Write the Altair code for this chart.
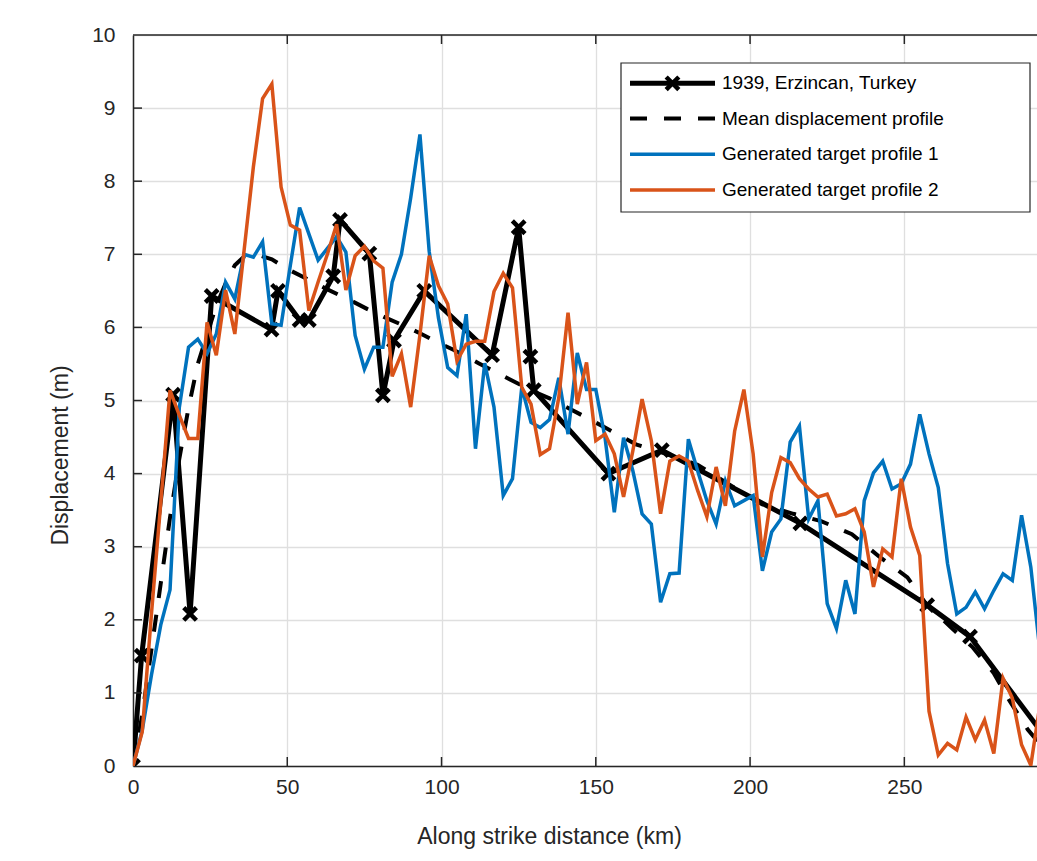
import altair as alt
import pandas as pd

# ---------------- data ----------------
dist = [0, 3, 6, 9, 12, 15, 18, 21, 24, 27, 30, 33, 36, 39, 42, 45, 48, 51, 54, 57,
        60, 63, 66, 69, 72, 75, 78, 81, 84, 87, 90, 93, 96, 99, 102, 105, 108, 111, 114, 117,
        120, 123, 126, 129, 132, 135, 138, 141, 144, 147, 150, 153, 156, 159, 162, 165, 168, 171, 174, 177,
        180, 183, 186, 189, 192, 195, 198, 201, 204, 207, 210, 213, 216, 219, 222, 225, 228, 231, 234, 237,
        240, 243, 246, 249, 252, 255, 258, 261, 264, 267, 270, 273, 276, 279, 282, 285, 288, 291, 294]

profile1 = [0.00, 0.49, 1.25, 1.93, 2.41, 4.90, 5.73, 5.84, 5.64, 5.91,
            6.62, 6.39, 7.00, 6.96, 7.17, 6.05, 6.03, 6.85, 7.64, 7.28,
            6.92, 7.08, 7.24, 7.03, 5.89, 5.43, 5.73, 5.73, 6.62, 7.00,
            7.77, 8.64, 7.04, 6.13, 5.45, 5.34, 6.18, 4.34, 5.51, 4.91,
            3.70, 3.93, 5.18, 4.70, 4.63, 4.74, 5.31, 4.54, 5.65, 5.15,
            5.15, 4.49, 3.47, 4.49, 4.04, 3.45, 3.31, 2.24, 2.63, 2.64,
            4.47, 4.04, 3.63, 3.31, 3.90, 3.56, 3.63, 3.70, 2.67, 3.20,
            3.38, 4.43, 4.65, 3.38, 3.63, 2.22, 1.88, 2.54, 2.08, 3.63,
            4.01, 4.17, 3.79, 3.86, 4.13, 4.81, 4.27, 3.81, 2.77, 2.08,
            2.17, 2.38, 2.15, 2.40, 2.63, 2.54, 3.43, 2.72, 1.55]

profile2 = [0.00, 0.47, 2.09, 3.60, 5.14, 4.80, 4.48, 4.48, 6.07, 5.62,
            6.51, 5.91, 7.05, 8.19, 9.13, 9.33, 7.92, 7.40, 7.33, 6.23,
            6.62, 7.00, 7.41, 6.51, 6.98, 7.11, 6.91, 6.81, 5.33, 5.64,
            4.91, 5.90, 6.98, 6.57, 6.32, 5.54, 5.77, 5.81, 5.81, 6.49,
            6.74, 6.54, 5.18, 4.95, 4.26, 4.34, 5.04, 6.20, 4.95, 5.52,
            4.45, 4.54, 4.27, 3.68, 4.31, 5.02, 4.45, 3.45, 4.17, 4.24,
            4.17, 3.77, 3.41, 4.09, 3.56, 4.58, 5.15, 4.27, 2.86, 3.74,
            4.22, 4.15, 3.93, 3.79, 3.68, 3.72, 3.42, 3.45, 3.52, 3.20,
            2.45, 2.97, 2.86, 3.93, 3.27, 2.88, 0.75, 0.15, 0.31, 0.22,
            0.67, 0.36, 0.63, 0.17, 1.20, 0.93, 0.29, 0.01, 0.85]

mean_x = [0, 3, 6, 9, 12, 15, 18, 21, 24, 27, 30, 33, 36, 40, 45, 50, 57, 63, 70, 76,
          82, 88, 93, 100, 104, 112, 118, 123, 130, 135, 145, 153, 163, 172, 183, 194, 204, 214, 223, 233,
          242, 251, 257, 265, 272, 279, 284, 290, 300]
mean_y = [0.00, 0.70, 1.60, 2.50, 3.40, 4.20, 4.90, 5.50, 5.90, 6.30, 6.60, 6.85, 6.97, 7.00, 6.93, 6.80, 6.65, 6.52, 6.38, 6.25,
          6.13, 6.02, 5.92, 5.77, 5.69, 5.51, 5.38, 5.27, 5.12, 5.03, 4.81, 4.63, 4.40, 4.28, 4.12, 3.83, 3.58, 3.45, 3.35, 3.17,
          2.86, 2.58, 2.22, 1.90, 1.63, 1.27, 0.90, 0.50, 0.00]

obs_x = [0, 2.8, 13.0, 18.5, 25.5, 44.9, 47.0, 54.0, 57.0, 64.9, 67.1, 76.6, 81.0, 84.6, 94.4,
         116.4, 125.0, 128.8, 129.9, 154.1, 171.4, 216.3, 257.4, 271.3, 300]
obs_y = [0.00, 1.51, 5.08, 2.08, 6.43, 5.97, 6.50, 6.10, 6.10, 6.70, 7.47, 7.01, 5.07, 5.82, 6.50,
         5.62, 7.37, 5.60, 5.14, 4.00, 4.32, 3.32, 2.20, 1.77, 0.15]

x_ticks = [0, 50, 100, 150, 200, 250]
y_ticks = [0, 1, 2, 3, 4, 5, 6, 7, 8, 9, 10]

legend_labels = ["1939, Erzincan, Turkey", "Mean displacement profile",
                 "Generated target profile 1", "Generated target profile 2"]

# ---------------- style ----------------
FONT = "Liberation Sans"
AX = "#262626"
BLUE = "#0072BD"
ORANGE = "#D95319"
W, H = 904, 731
XMAX = 293.0

xs = alt.Scale(domain=[0, XMAX], nice=False, zero=False)
ys = alt.Scale(domain=[0, 10], nice=False)

x_axis = alt.Axis(values=x_ticks, title="Along strike distance (km)", grid=True, format="d",
                  ticks=False, tickSize=0, labelPadding=10, labelFontSize=21,
                  labelFont=FONT, labelColor=AX, titleFont=FONT, titleFontSize=23,
                  titleFontWeight="normal", titleColor=AX, titleY=77, titleX=416,
                  titleAlign="center", titleAnchor="start",
                  titleBaseline="alphabetic", domainColor=AX, domainWidth=1.5,
                  gridColor="#dfdfdf", gridWidth=1.3, labelFlush=False)
y_axis = alt.Axis(values=y_ticks, title="Displacement (m)", grid=True, format="d",
                  ticks=False, tickSize=0, labelPadding=18, labelFontSize=21,
                  labelFont=FONT, labelColor=AX, titleFont=FONT, titleFontSize=23,
                  titleFontWeight="normal", titleColor=AX, titleAngle=270,
                  titleX=-73, titleY=420, titleAlign="center", titleBaseline="middle",
                  domainColor=AX, domainWidth=1.5, gridColor="#dfdfdf", gridWidth=1.3,
                  labelFlush=False)

df_p = pd.DataFrame({"x": dist, "p1": profile1, "p2": profile2})
df_m = pd.DataFrame({"x": mean_x, "y": mean_y})
df_o = pd.DataFrame({"x": obs_x, "y": obs_y})

obs_line = alt.Chart(df_o).mark_line(color="black", strokeWidth=5, clip=True).encode(
    x=alt.X("x:Q", scale=xs, axis=x_axis), y=alt.Y("y:Q", scale=ys, axis=y_axis))
XSHAPE = "M-1,-1L1,1M1,-1L-1,1"
obs_pts = alt.Chart(df_o).mark_point(shape=XSHAPE, size=160, strokeWidth=4.5, color="black",
                                     filled=False, opacity=1, clip=True).encode(
    x=alt.X("x:Q", scale=xs), y=alt.Y("y:Q", scale=ys))
mean_line = alt.Chart(df_m).mark_line(color="black", strokeWidth=4, strokeDash=[17, 17],
                                      clip=True).encode(
    x=alt.X("x:Q", scale=xs), y=alt.Y("y:Q", scale=ys))
p1_line = alt.Chart(df_p).mark_line(color=BLUE, strokeWidth=3.5, clip=True).encode(
    x=alt.X("x:Q", scale=xs), y=alt.Y("p1:Q", scale=ys))
p2_line = alt.Chart(df_p).mark_line(color=ORANGE, strokeWidth=3.5, clip=True).encode(
    x=alt.X("x:Q", scale=xs), y=alt.Y("p2:Q", scale=ys))

# box top edge and inward ticks (MATLAB style)
top_edge = alt.Chart(pd.DataFrame({"v": [10]})).mark_rule(color=AX, strokeWidth=1.5).encode(
    y=alt.Y("v:Q", scale=ys))
df_xt = pd.DataFrame({"t": x_ticks[1:]})
df_yt = pd.DataFrame({"t": y_ticks[1:-1]})
xt_bot = alt.Chart(df_xt).mark_rule(color=AX, strokeWidth=1.5).encode(
    x=alt.X("t:Q", scale=xs), y=alt.value(H), y2=alt.value(H - 9))
xt_top = alt.Chart(df_xt).mark_rule(color=AX, strokeWidth=1.5).encode(
    x=alt.X("t:Q", scale=xs), y=alt.value(0), y2=alt.value(9))
yt_left = alt.Chart(df_yt).mark_rule(color=AX, strokeWidth=1.5).encode(
    y=alt.Y("t:Q", scale=ys), x=alt.value(0), x2=alt.value(9))

# legend (drawn by hand in pixel space of the plot area)
LX0, LX1, LY0, LY1 = 488, 897, 28, 177
rows = [48.3, 83.5, 119.3, 155.0]
one = pd.DataFrame({"a": [0]})
leg_box = alt.Chart(one).mark_rect(fill="white", stroke=AX, strokeWidth=1.2).encode(
    x=alt.value(LX0), x2=alt.value(LX1), y=alt.value(LY0), y2=alt.value(LY1))
leg_l1 = alt.Chart(one).mark_rule(color="black", strokeWidth=5).encode(
    x=alt.value(497), x2=alt.value(582), y=alt.value(rows[0]))
leg_m1 = alt.Chart(one).mark_point(shape=XSHAPE, size=160, strokeWidth=4.5, color="black",
                                   filled=False, opacity=1).encode(
    x=alt.value(539.5), y=alt.value(rows[0]))
leg_l2 = alt.Chart(one).mark_rule(color="black", strokeWidth=4, strokeDash=[17, 17]).encode(
    x=alt.value(497), x2=alt.value(582), y=alt.value(rows[1]))
leg_l3 = alt.Chart(one).mark_rule(color=BLUE, strokeWidth=3.5).encode(
    x=alt.value(497), x2=alt.value(582), y=alt.value(rows[2]))
leg_l4 = alt.Chart(one).mark_rule(color=ORANGE, strokeWidth=3.5).encode(
    x=alt.value(497), x2=alt.value(582), y=alt.value(rows[3]))
df_leg = pd.DataFrame({"label": legend_labels, "row": rows})
leg_text = alt.Chart(df_leg).mark_text(align="left", baseline="middle", font=FONT,
                                       fontSize=19, color="black").encode(
    x=alt.value(589), y=alt.Y("row:Q", scale=None), text="label:N")

chart = alt.layer(
    obs_line, obs_pts, mean_line, p1_line, p2_line,
    top_edge, xt_bot, xt_top, yt_left,
    leg_box, leg_l1, leg_m1, leg_l2, leg_l3, leg_l4, leg_text,
).properties(
    width=W, height=H,
    autosize=alt.AutoSizeParams(type="none"),
    padding={"left": 133, "top": 35, "right": 0, "bottom": 95},
    background="white",
).configure_view(stroke=None)

chart.save("out.html", embed_options={"renderer": "svg", "actions": False})
